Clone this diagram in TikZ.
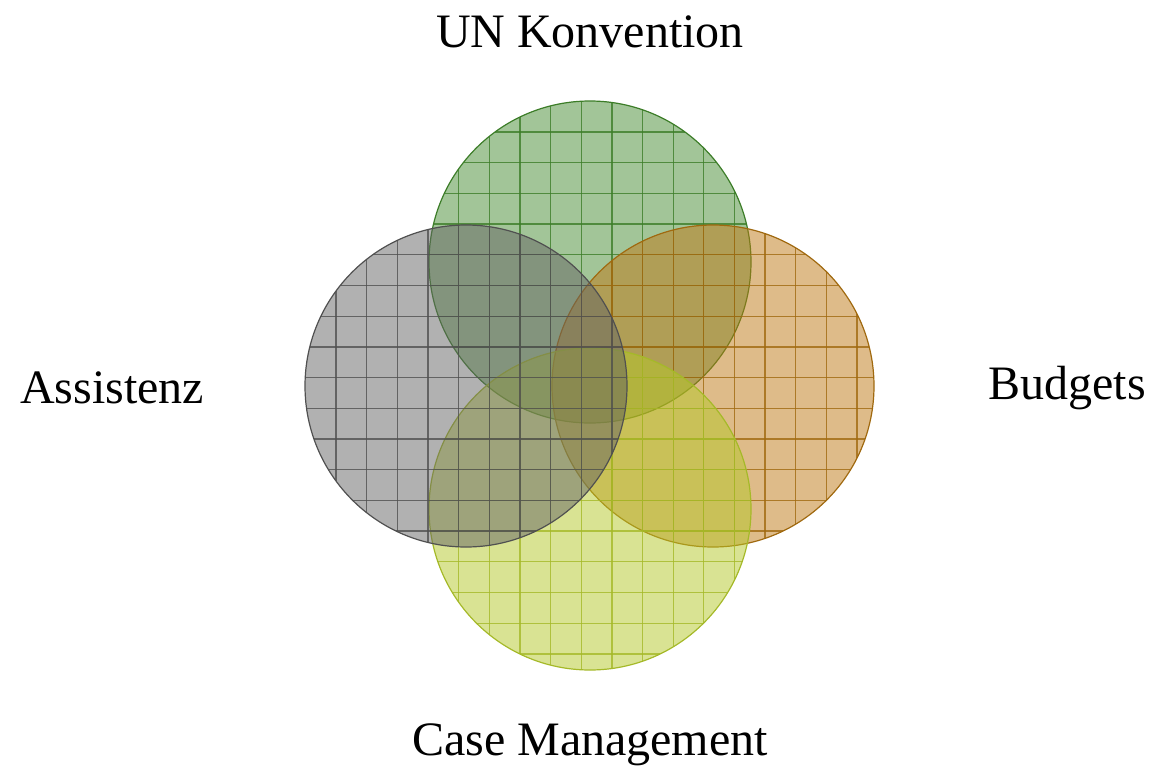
\documentclass[tikz,border=0pt]{standalone}
\usepackage{fontspec}
\setmainfont{Liberation Serif}
\usetikzlibrary{calc}
\definecolor{cGfill}{RGB}{70,140,50}
\definecolor{cGline}{RGB}{60,125,40}
\definecolor{cAfill}{RGB}{100,100,100}
\definecolor{cAline}{RGB}{80,80,80}
\definecolor{cOfill}{RGB}{190,120,20}
\definecolor{cOline}{RGB}{160,105,15}
\definecolor{cYfill}{RGB}{180,200,40}
\definecolor{cYline}{RGB}{165,185,40}
\tikzset{
  lbl/.style={font=\fontsize{24}{28}\selectfont, inner sep=0pt},
  vc/.style={circle, minimum size=161pt, inner sep=0pt, fill=#1, fill opacity=0.5},
  gridl/.style={draw=#1, draw opacity=0.8, line width=0.65pt},
  rim/.style={draw=#1, line width=0.6pt}
}
\newcommand\vennc[5]{%
  \node[vc=#4] (#1) at (#2,#3) {};
  \foreach \k in {-1,...,17}{
    \pgfmathsetmacro\dX{336+30.65*\k-#2}
    \pgfmathparse{abs(\dX)<160 ? 1 : 0}
    \ifnum\pgfmathresult=1
      \pgfmathsetmacro\hX{100*sqrt(1.61*1.61-(\dX/100)*(\dX/100))}
      \draw[gridl=#5] ($(#1.center)+(\dX,-\hX)$) -- ($(#1.center)+(\dX,\hX)$);
    \fi
    \pgfmathsetmacro\dY{132+30.7*\k-#3}
    \pgfmathparse{abs(\dY)<160 ? 1 : 0}
    \ifnum\pgfmathresult=1
      \pgfmathsetmacro\hY{100*sqrt(1.61*1.61-(\dY/100)*(\dY/100))}
      \draw[gridl=#5] ($(#1.center)+(-\hY,\dY)$) -- ($(#1.center)+(\hY,\dY)$);
    \fi
  }
  \draw[rim=#5] (#1.center) circle[radius=161];
}
\begin{document}
\begin{tikzpicture}[x=0.5pt,y=-0.5pt]
\useasboundingbox (0,0) rectangle (1153,772);
\vennc{green}{590}{262}{cGfill}{cGline}
\vennc{orange}{713}{386}{cOfill}{cOline}
\vennc{yellow}{590}{509}{cYfill}{cYline}
\vennc{gray}{466}{386}{cAfill}{cAline}
\node[lbl] (un) at (590,32) {UN Konvention};
\node[lbl] (as) at (112,388) {Assistenz};
\node[lbl] (bu) at (1067,388) {Budgets};
\node[lbl] (cm) at (590,745) {Case Management};
\end{tikzpicture}
\end{document}
